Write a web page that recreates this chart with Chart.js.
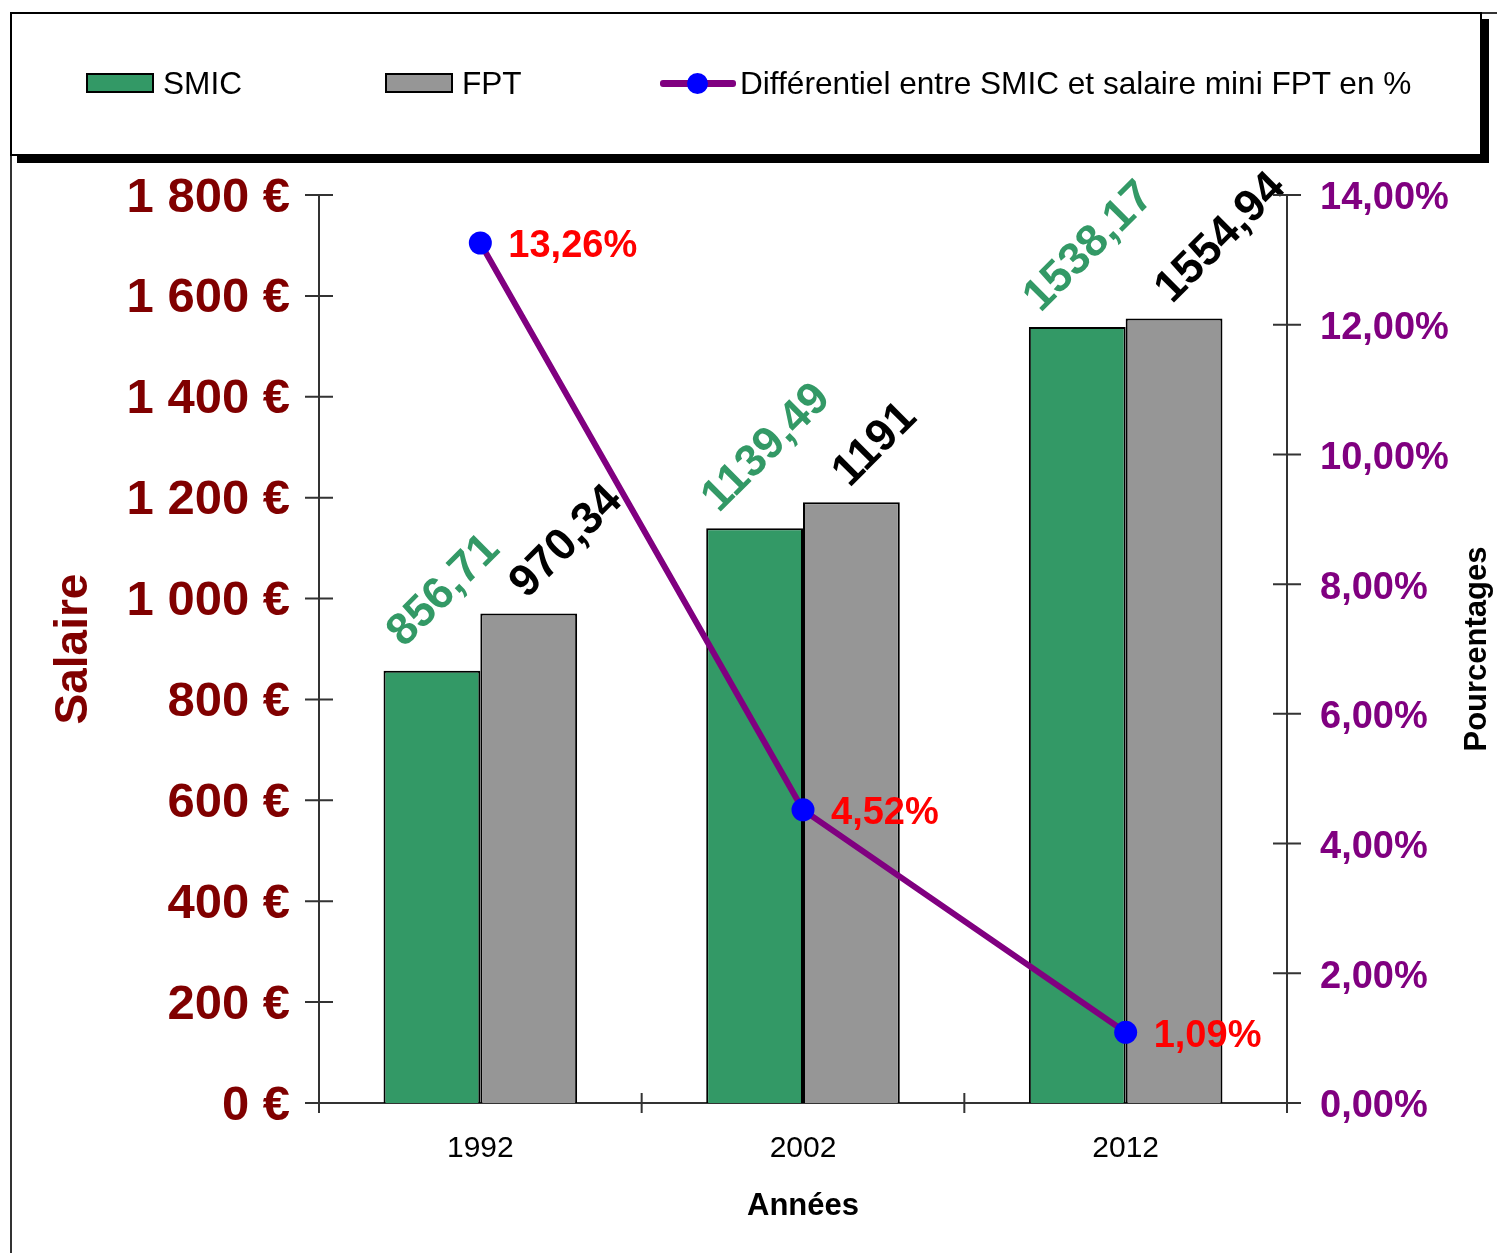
<!DOCTYPE html>
<html>
<head>
<meta charset="utf-8">
<script src="https://cdn.jsdelivr.net/npm/chart.js@4/dist/chart.umd.min.js"></script>
<style>
  body { margin: 0; background: #fff; font-family: "Liberation Sans", Arial, sans-serif; }
  #page { position: relative; width: 1497px; height: 1253px; overflow: hidden; }
  #frame { position: absolute; left: 10px; top: 12px; width: 1600px; height: 1400px;
           border-left: 2px solid #333; border-top: 2px solid #333; }
  #legend { position: absolute; left: 10px; top: 12px; width: 1468px; height: 140px;
            border: 2px solid #000; box-shadow: 7px 7px 0 #000; background: #fff; z-index: 2; }
  .item { position: absolute; top: 51px; height: 36px; display: flex; align-items: center;
          font-size: 31.6px; color: #000; white-space: nowrap; }
  .swatch { width: 64px; height: 16px; border: 2px solid #000; margin-right: 9px; }
  .lineMark { position: relative; width: 76px; height: 36px; margin-right: 4px; }
  .lineMark i { position: absolute; left: 0; top: 15px; width: 76px; height: 7px; border-radius: 3px; }
  .lineMark b { position: absolute; left: 27px; top: 8px; width: 21px; height: 21px; border-radius: 50%; }
  #wrap { position: absolute; left: 0; top: 0; width: 1497px; height: 1253px; z-index: 1; }
</style>
</head>
<body>
<div id="page">
  <div id="frame"></div>
  <div id="legend"></div>
  <div id="wrap"><canvas id="salary-chart"></canvas></div>
</div>
<script>
var years = ['1992', '2002', '2012']
var smicValues = [856.71, 1139.49, 1538.17]
var fptValues = [970.34, 1191, 1554.94]
var diffValues = [13.26, 4.52, 1.09]

var smicColor = '#339966'
var fptColor = '#969696'
var lineColor = '#800080'
var pointColor = '#0000FF'

var frNumber = function(v) {
  return String(v).replace('.', ',')
}

var euroTick = function(v) {
  if (v >= 1000) {
    var rest = String(v % 1000)
    while (rest.length < 3) rest = '0' + rest
    return Math.floor(v / 1000) + ' ' + rest + ' €'
  }
  return v + ' €'
}

// crossing tick marks and rotated right title
var axisDecor = {
  id: 'axisDecor',
  afterDraw: function(chart) {
    var ctx = chart.ctx
    var area = chart.chartArea
    var yl = chart.scales.y, yr = chart.scales.y1
    ctx.save()
    ctx.strokeStyle = '#333'
    ctx.lineWidth = 2
    ctx.beginPath()
    yl.ticks.forEach(function(t) {
      var py = yl.getPixelForValue(t.value)
      ctx.moveTo(area.left - 14, py); ctx.lineTo(area.left + 14, py)
    })
    yr.ticks.forEach(function(t) {
      var py = yr.getPixelForValue(t.value)
      ctx.moveTo(area.right - 14, py); ctx.lineTo(area.right + 14, py)
    })
    var step = (area.right - area.left) / years.length
    for (var i = 0; i <= years.length; i++) {
      var px = area.left + i * step
      ctx.moveTo(px, area.bottom - 10); ctx.lineTo(px, area.bottom + 10)
    }
    ctx.stroke()

    ctx.translate(1477, (area.top + area.bottom) / 2)
    ctx.rotate(-Math.PI / 2)
    ctx.fillStyle = '#000'
    ctx.font = 'bold 31px "Liberation Sans", Arial'
    ctx.textAlign = 'center'
    ctx.textBaseline = 'middle'
    ctx.fillText('Pourcentages', 0, 0)
    ctx.restore()
  }
}

// value labels on bars and points
var valueLabels = {
  id: 'valueLabels',
  afterDatasetsDraw: function(chart) {
    var ctx = chart.ctx
    ctx.save()
    ctx.font = 'bold 45px "Liberation Sans", Arial'
    chart.getDatasetMeta(0).data.forEach(function(bar, i) {
      ctx.save()
      ctx.translate(bar.x + 12, bar.y - 80)
      ctx.rotate(-Math.PI / 4)
      ctx.fillStyle = smicColor
      ctx.textAlign = 'center'
      ctx.textBaseline = 'middle'
      ctx.fillText(frNumber(smicValues[i]), 0, 0)
      ctx.restore()
    })
    chart.getDatasetMeta(1).data.forEach(function(bar, i) {
      ctx.save()
      ctx.translate(bar.x - 2, bar.y - 14)
      ctx.rotate(-Math.PI / 4)
      ctx.fillStyle = '#000'
      ctx.textAlign = 'left'
      ctx.textBaseline = 'alphabetic'
      ctx.fillText(frNumber(fptValues[i]), 0, 0)
      ctx.restore()
    })
    ctx.font = 'bold 38px "Liberation Sans", Arial'
    ctx.fillStyle = '#FF0000'
    ctx.textAlign = 'left'
    ctx.textBaseline = 'middle'
    chart.getDatasetMeta(2).data.forEach(function(pt, i) {
      ctx.fillText(diffValues[i].toFixed(2).replace('.', ',') + '%', pt.x + 28, pt.y + 4)
    })
    ctx.restore()
  }
}

var chartData = {
  labels: years,
  datasets: [{
    type: 'bar',
    label: 'SMIC',
    data: smicValues,
    backgroundColor: smicColor,
    borderColor: '#000',
    borderWidth: 2,
    yAxisID: 'y',
    order: 1
  }, {
    type: 'bar',
    label: 'FPT',
    data: fptValues,
    backgroundColor: fptColor,
    borderColor: '#000',
    borderWidth: 2,
    yAxisID: 'y',
    order: 1
  }, {
    type: 'line',
    label: 'Différentiel entre SMIC et salaire mini FPT en %',
    data: diffValues,
    borderColor: lineColor,
    borderWidth: 6,
    pointBackgroundColor: pointColor,
    pointBorderWidth: 0,
    pointRadius: 11.5,
    tension: 0,
    yAxisID: 'y1',
    order: 0
  }]
}

var chart = new Chart(document.getElementById('salary-chart'), {
  data: chartData,
  plugins: [axisDecor, valueLabels],
  options: {
    responsive: true,
    maintainAspectRatio: false,
    animation: false,
    layout: { padding: { top: 195, left: 0, right: 0, bottom: 0 } },
    plugins: { legend: { display: false }, tooltip: { enabled: false } },
    datasets: { bar: { categoryPercentage: 0.6, barPercentage: 1.0 } },
    scales: {
      x: {
        afterFit: function(s) { s.height = 150 },
        grid: { display: false, drawTicks: false },
        border: { color: '#333', width: 2 },
        ticks: { color: '#000', font: { family: '"Liberation Sans", Arial', size: 30 }, padding: 28, maxRotation: 0 },
        title: { display: true, text: 'Années', color: '#000',
                 font: { family: '"Liberation Sans", Arial', size: 31, weight: 'bold' }, padding: { top: 0, bottom: 28 } }
      },
      y: {
        position: 'left',
        min: 0, max: 1800,
        afterFit: function(s) { s.width = 319 },
        grid: { display: false, drawTicks: false },
        border: { color: '#333', width: 2 },
        ticks: { stepSize: 200, color: '#800000', padding: 29, labelOffset: 3,
                 font: { family: '"Liberation Sans", Arial', size: 49, weight: 'bold' },
                 callback: function(v) { return euroTick(v) } },
        title: { display: true, text: 'Salaire', color: '#800000',
                 font: { family: '"Liberation Sans", Arial', size: 46, weight: 'bold' }, padding: { top: 47, bottom: 0 } }
      },
      y1: {
        position: 'right',
        min: 0, max: 14,
        afterFit: function(s) { s.width = 210 },
        grid: { display: false, drawTicks: false },
        border: { color: '#333', width: 2 },
        ticks: { stepSize: 2, color: '#800080', padding: 33, labelOffset: 4,
                 font: { family: '"Liberation Sans", Arial', size: 38, weight: 'bold' },
                 callback: function(v) { return v.toFixed(2).replace('.', ',') + '%' } }
      }
    }
  }
})

// legend built from the datasets
var legend = document.getElementById('legend')
var legendLeft = [74, 373, 648]
chartData.datasets.forEach(function(ds, i) {
  var item = document.createElement('div')
  item.className = 'item'
  item.style.left = legendLeft[i] + 'px'
  if (ds.type === 'bar') {
    item.innerHTML = '<span class="swatch" style="background:' + ds.backgroundColor + '"></span>' + ds.label
  } else {
    item.innerHTML = '<span class="lineMark"><i style="background:' + ds.borderColor + '"></i>' +
      '<b style="background:' + ds.pointBackgroundColor + '"></b></span>' + ds.label
  }
  legend.appendChild(item)
})
</script>
</body>
</html>
